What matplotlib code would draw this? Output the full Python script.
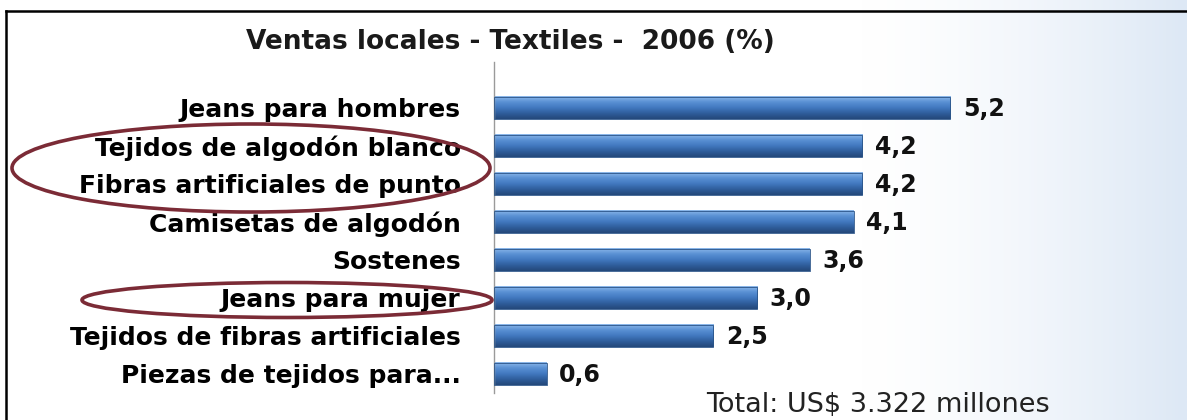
import numpy as np
import matplotlib
matplotlib.use("Agg")
import matplotlib.pyplot as plt
from matplotlib.patches import Ellipse
from matplotlib.colors import LinearSegmentedColormap
from matplotlib.lines import Line2D

# local textile sales, share of total (%)
categorias = [
    "Jeans para hombres",
    "Tejidos de algodón blanco",
    "Fibras artificiales de punto",
    "Camisetas de algodón",
    "Sostenes",
    "Jeans para mujer",
    "Tejidos de fibras artificiales",
    "Piezas de tejidos para...",
]
valores = [5.2, 4.2, 4.2, 4.1, 3.6, 3.0, 2.5, 0.6]
etiquetas = ["5,2", "4,2", "4,2", "4,1", "3,6", "3,0", "2,5", "0,6"]

titulo = "Ventas locales - Textiles -  2006 (%)"
total = "Total: US$ 3.322 millones"

W, H = 1187, 420
fig = plt.figure(figsize=(W / 100, H / 100), dpi=100)

# soft white-to-blue backdrop on the right
bg = fig.add_axes([0, 0, 1, 1], zorder=-10)
xs = np.linspace(0, 1, 400)
grad = np.clip((xs - 0.72) / 0.28, 0, 1) ** 1.5
bg_cmap = LinearSegmentedColormap.from_list("bg", ["#ffffff", "#dde8f5"])
bg.imshow(grad[None, :], aspect="auto", cmap=bg_cmap, vmin=0, vmax=1,
          extent=[0, 1, 0, 1])
bg.set_xlim(0, 1)
bg.set_ylim(0, 1)
bg.axis("off")

# frame: top and left edges only
fig.add_artist(Line2D([6 / W, 1], [1 - 11 / H, 1 - 11 / H], color="black", lw=1.8))
fig.add_artist(Line2D([6 / W, 6 / W], [0, 1 - 11 / H], color="black", lw=1.8))

ax_left, ax_top, ax_bot = 494, 62, 393
ax = fig.add_axes([ax_left / W, (H - ax_bot) / H, 658 / W, (ax_bot - ax_top) / H])
ax.patch.set_alpha(0)

n = len(valores)
ypos = np.arange(n)
alto = 0.58
bar_cmap = LinearSegmentedColormap.from_list(
    "bar", ["#8db8ea", "#5a91d4", "#4279c0", "#2f5e9c", "#24487a"])
vert = np.linspace(0, 1, 64)[:, None]
for y, v, lab in zip(ypos, valores, etiquetas):
    ax.imshow(vert, aspect="auto", cmap=bar_cmap,
              extent=[0, v, y + alto / 2, y - alto / 2], zorder=2)
    ax.barh(y, v, height=alto, color="none", edgecolor="#2a5488", lw=0.6, zorder=3)
    ax.annotate(lab, (v, y), xytext=(9, -1),
                textcoords="offset points", va="center", ha="left",
                fontsize=17, fontweight="bold", family="DejaVu Sans", color="#111111")

ax.set_xlim(0, 7.5)
ax.set_ylim(7.5, -1.21)
ax.set_yticks(ypos)
ax.set_yticklabels(categorias, family="DejaVu Sans", fontweight="bold", fontsize=18)
ax.tick_params(axis="y", length=0, pad=24)
ax.set_xticks([])
for s in ["top", "right", "bottom"]:
    ax.spines[s].set_visible(False)
ax.spines["left"].set_color("#9a9a9a")
ax.spines["left"].set_linewidth(1.0)

fig.text(510 / W, 1 - 42 / H, titulo, ha="center", va="center",
         family="DejaVu Sans", fontweight="bold", fontsize=19, color="#1a1a1a")
fig.text(878 / W, 1 - 405 / H, total, ha="center", va="center",
         family="DejaVu Sans", fontsize=19.5, color="#222222")

# hand-drawn style highlight rings
ring = "#7b2b36"
fig.add_artist(Ellipse((251 / W, 1 - 168 / H), 478 / W, 88 / H,
                       fill=False, edgecolor=ring, lw=2.6))
fig.add_artist(Ellipse((287 / W, 1 - 300 / H), 410 / W, 35 / H,
                       fill=False, edgecolor=ring, lw=2.6))

fig.savefig("out.png", dpi=100)
